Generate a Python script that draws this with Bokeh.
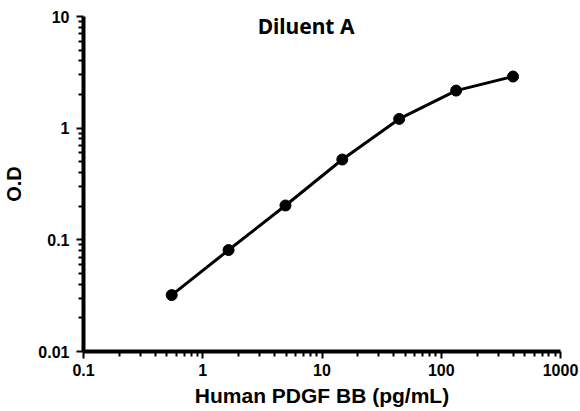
from bokeh.plotting import figure
from bokeh.models import Range1d, FixedTicker, CustomJSTickFormatter, Label
from bokeh.embed import file_html
from bokeh.resources import INLINE

# Data
concentration = [0.549, 1.646, 4.94, 14.8, 44.4, 133.3, 400.0]   # pg/mL
od_values = [0.032, 0.081, 0.203, 0.524, 1.21, 2.17, 2.9]
x_major = [0.1, 1, 10, 100, 1000]
y_major = [0.01, 0.1, 1, 10]
title_text = "Diluent A"
x_label = "Human PDGF BB (pg/mL)"
y_label = "O.D"

def minors(majors):
    out = []
    for d in majors[:-1]:
        for k in range(2, 10):
            out.append(d * k)
    return out

p = figure(width=580, height=411, x_axis_type="log", y_axis_type="log",
           x_range=Range1d(0.1, 1000), y_range=Range1d(0.01, 10),
           output_backend="svg", toolbar_location=None,
           min_border_left=82, min_border_right=20, min_border_top=16, min_border_bottom=60)
p.title.visible = False
p.outline_line_color = None
p.xgrid.visible = False
p.ygrid.visible = False
p.background_fill_color = "white"
p.border_fill_color = "white"

fmt = CustomJSTickFormatter(code="return tick.toString();")
for ax, majors, lab in ((p.xaxis[0], x_major, x_label), (p.yaxis[0], y_major, y_label)):
    ax.ticker = FixedTicker(ticks=majors, minor_ticks=minors(majors))
    ax.formatter = fmt
    ax.axis_line_width = 4
    ax.axis_line_color = "black"
    ax.major_tick_line_width = 2
    ax.major_tick_line_color = "black"
    ax.major_tick_out = 7
    ax.major_tick_in = 0
    ax.minor_tick_line_width = 2
    ax.minor_tick_line_color = "black"
    ax.minor_tick_out = 5
    ax.minor_tick_in = 0
    ax.major_label_text_font = "Liberation Sans"
    ax.major_label_text_font_style = "bold"
    ax.major_label_text_font_size = "16px"
    ax.major_label_text_color = "black"
    ax.axis_label = lab
    ax.axis_label_text_font = "Liberation Sans"
    ax.axis_label_text_font_style = "bold"
    ax.axis_label_text_font_size = "20px"
    ax.axis_label_text_color = "black"

p.xaxis[0].major_label_standoff = 5
p.xaxis[0].axis_label_standoff = 5
p.xaxis[0].axis_label_text_font_size = "21px"
p.yaxis[0].major_label_standoff = 7
p.yaxis[0].axis_label_standoff = 10

p.line(concentration, od_values, line_color="black", line_width=3)
p.scatter(concentration, od_values, size=11, fill_color="black", line_color="black")

p.add_layout(Label(x=7.35, y=8.3, text=title_text, text_align="center", text_baseline="middle",
                   text_font="Noto Sans", text_font_style="bold", text_font_size="21px",
                   text_color="black"))

open("out.html", "w").write(file_html(p, INLINE))
